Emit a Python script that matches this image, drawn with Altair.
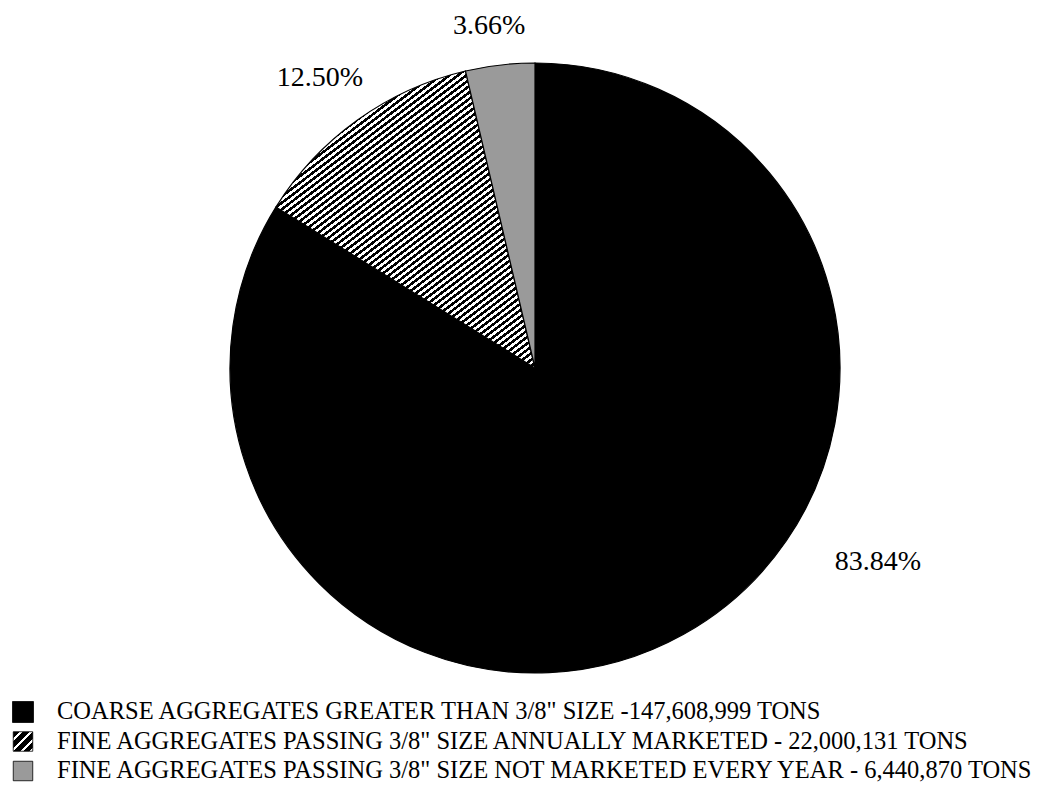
import math
import altair as alt
import pandas as pd

# ---------------- data ----------------
keys = ["coarse", "fine_marketed", "fine_not_marketed"]
tons = [147608999, 22000131, 6440870]
legend_labels = [
    'COARSE AGGREGATES GREATER THAN 3/8" SIZE -147,608,999 TONS',
    'FINE AGGREGATES PASSING 3/8" SIZE ANNUALLY MARKETED - 22,000,131 TONS',
    'FINE AGGREGATES PASSING 3/8" SIZE NOT MARKETED EVERY YEAR - 6,440,870 TONS',
]
slice_order = [0, 1, 2]

df = pd.DataFrame({"key": keys, "tons": tons, "legend": legend_labels, "order": slice_order})

# ---------------- layout / style ----------------
CX, CY, R = 535, 368, 305
FONT = "'Liberation Serif', 'Times New Roman', serif"
# label placement: fraction along the slice, distance from centre (px)
label_frac = {"coarse": 0.396, "fine_marketed": 0.48, "fine_not_marketed": 0.42}
label_rad = {"coarse": 394, "fine_marketed": 361, "fine_not_marketed": 345}


def case_expr(d):
    expr = str(list(d.values())[-1])
    for k, v in list(d.items())[:-1][::-1]:
        expr = f"datum.key === '{k}' ? {v} : ({expr})"
    return expr


def stripes(n, duty, x2, y2, c1="black", c2="white"):
    stops = []
    for i in range(n):
        a = i / n
        b = (i + duty) / n
        c = (i + 1) / n
        stops += [
            alt.GradientStop(offset=a, color=c1),
            alt.GradientStop(offset=b, color=c1),
            alt.GradientStop(offset=b, color=c2),
            alt.GradientStop(offset=c, color=c2),
        ]
    return alt.LinearGradient(gradient="linear", stops=stops, x1=0, y1=0, x2=x2, y2=y2)


hatch_big = stripes(77, 0.5, 0.766, 1.155)
hatch_small = stripes(4, 0.68, 1, 1)
dots = "#9a9a9a"

fills = {"coarse": "black", "fine_marketed": hatch_big, "fine_not_marketed": dots}
swatch_fills = {"coarse": "black", "fine_marketed": hatch_small, "fine_not_marketed": dots}
swatch_sizes = {"coarse": 440, "fine_marketed": 380, "fine_not_marketed": 380}

theta_scale = alt.Scale(domain=[0, 1], range=[0, 2 * math.pi])

base = (
    alt.Chart(df)
    .transform_joinaggregate(total="sum(tons)")
    .transform_window(cum="sum(tons)", sort=[alt.SortField("order")], frame=[None, 0])
    .transform_calculate(
        frac_end="datum.cum / datum.total",
        frac_start="(datum.cum - datum.tons) / datum.total",
        pct="datum.tons / datum.total",
    )
    .transform_calculate(
        lab_theta="datum.frac_start + (" + case_expr(label_frac) + ") * (datum.frac_end - datum.frac_start)",
        lab_r=case_expr(label_rad),
    )
)

layers = []
for k in keys:
    layers.append(
        base.transform_filter(alt.datum.key == k)
        .mark_arc(
            radius=R,
            fill=fills[k],
            stroke="black",
            strokeWidth=1.2,
        )
        .encode(
            theta=alt.Theta("frac_start:Q", scale=theta_scale),
            theta2="frac_end:Q",
            x=alt.value(CX),
            y=alt.value(CY),
        )
    )

labels = base.mark_text(font=FONT, fontSize=28, color="black", align="center", baseline="middle").encode(
    theta=alt.Theta("lab_theta:Q", scale=theta_scale),
    radius=alt.Radius("lab_r:Q", scale=None),
    text=alt.Text("pct:Q", format=".2%"),
    x=alt.value(CX),
    y=alt.value(CY),
)
layers.append(labels)

y_scale = alt.Scale(domain=keys, range=[712, 771], padding=0)

for k in keys:
    layers.append(
        base.transform_filter(alt.datum.key == k)
        .mark_point(shape="square", filled=True, size=swatch_sizes[k], fill=swatch_fills[k], opacity=1,
                    stroke="black", strokeWidth=0.8)
        .encode(x=alt.value(23), y=alt.Y("key:N", scale=y_scale, axis=None))
    )

legend_text = base.mark_text(font=FONT, fontSize=24.5, align="left", baseline="middle", color="black").encode(
    x=alt.value(57),
    y=alt.Y("key:N", scale=y_scale, axis=None),
    text="legend:N",
)
layers.append(legend_text)

chart = (
    alt.layer(*layers)
    .properties(width=1058, height=796, autosize=alt.AutoSizeParams(type="none"), padding=0, background="white")
    .configure_view(stroke=None)
)

chart.save("out.html", embed_options={"renderer": "svg", "actions": False})
